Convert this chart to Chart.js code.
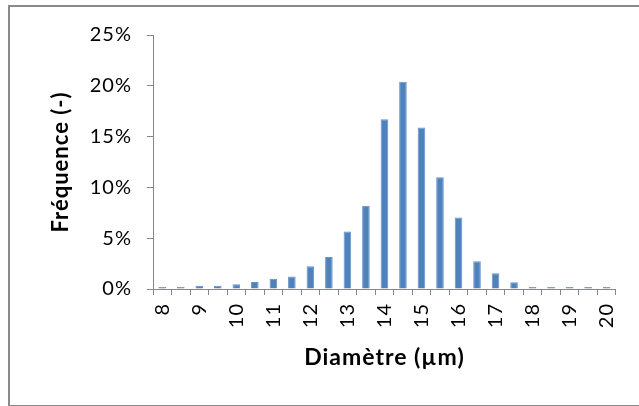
<!DOCTYPE html>
<html>
<head>
<meta charset="utf-8">
<script src="https://cdn.jsdelivr.net/npm/chart.js@4"></script>
<style>
  body { margin: 0; background: #fff; }
  #frame { position: absolute; left: 8px; top: 5px; width: 640px; height: 398px; border: 2px solid #8a8a8a; }
  #wrap { position: absolute; left: 0; top: 0; width: 639px; height: 406px; }
</style>
</head>
<body>
<div id="frame"></div>
<div id="wrap"><canvas id="chart"></canvas></div>
<script>
// diameter classes (µm), 0.5 step
const diameters = ['8', '8.5', '9', '9.5', '10', '10.5', '11', '11.5', '12', '12.5', '13', '13.5',
                   '14', '14.5', '15', '15.5', '16', '16.5', '17', '17.5', '18', '18.5', '19', '19.5', '20'];
// frequency, fraction
const frequency = [0.002, 0.002, 0.0033, 0.0033, 0.0046, 0.007, 0.010, 0.0122, 0.0225, 0.0314, 0.0565, 0.082,
                   0.167, 0.204, 0.159, 0.110, 0.0704, 0.0274, 0.0155, 0.0066, 0.002, 0.002, 0.002, 0.002, 0.002];
const yTicks = [0, 0.05, 0.10, 0.15, 0.20, 0.25];

const font = "Lato, 'Open Sans', sans-serif";
const axisGray = '#868686';

// the original text is set slightly wide, spread the letters a bit
const wideText = {
    id: 'wideText',
    beforeDraw(chart) { chart.ctx.letterSpacing = '1px'; }
};

new Chart(document.getElementById('chart'), {
    type: 'bar',
    data: {
        labels: diameters,
        datasets: [{
            data: frequency,
            backgroundColor: '#4F81BD',
            borderColor: '#6391C9',
            borderWidth: 1,
            barPercentage: 0.41,
            categoryPercentage: 1.0
        }]
    },
    plugins: [wideText],
    options: {
        responsive: true,
        maintainAspectRatio: false,
        animation: false,
        layout: { padding: { left: 48, right: 19, top: 35, bottom: 35 } },
        plugins: { legend: { display: false }, tooltip: { enabled: false } },
        scales: {
            x: {
                offset: true,
                afterFit: (s) => { s.height = 82; },
                grid: { display: true, offset: true, drawOnChartArea: false, color: axisGray, tickLength: 6 },
                border: { color: axisGray, width: 1 },
                ticks: {
                    autoSkip: false,
                    maxRotation: 90,
                    minRotation: 90,
                    color: '#000',
                    padding: 8,
                    font: { family: font, size: 20 },
                    callback: function (val) {
                        const s = this.getLabelForValue(val);
                        return Number.isInteger(Number(s)) ? s : '';
                    }
                },
                title: {
                    display: true,
                    text: 'Diamètre (µm)',
                    color: '#000',
                    font: { family: font, size: 23, weight: 'bold' },
                    padding: { top: 0, bottom: 0 }
                }
            },
            y: {
                min: 0,
                max: 0.25,
                afterBuildTicks: (s) => { s.ticks = yTicks.map(v => ({ value: v })); },
                afterFit: (s) => { s.width = 105; },
                grid: { display: true, drawOnChartArea: false, color: axisGray, tickLength: 6 },
                border: { color: axisGray, width: 1 },
                ticks: {
                    color: '#000',
                    padding: 15,
                    font: { family: font, size: 20 },
                    callback: (v) => Math.round(v * 100) + '%'
                },
                title: {
                    display: true,
                    text: 'Fréquence (-)',
                    color: '#000',
                    font: { family: font, size: 22, weight: 'bold' },
                    padding: { top: 0, bottom: 0 }
                }
            }
        }
    }
});
</script>
</body>
</html>
